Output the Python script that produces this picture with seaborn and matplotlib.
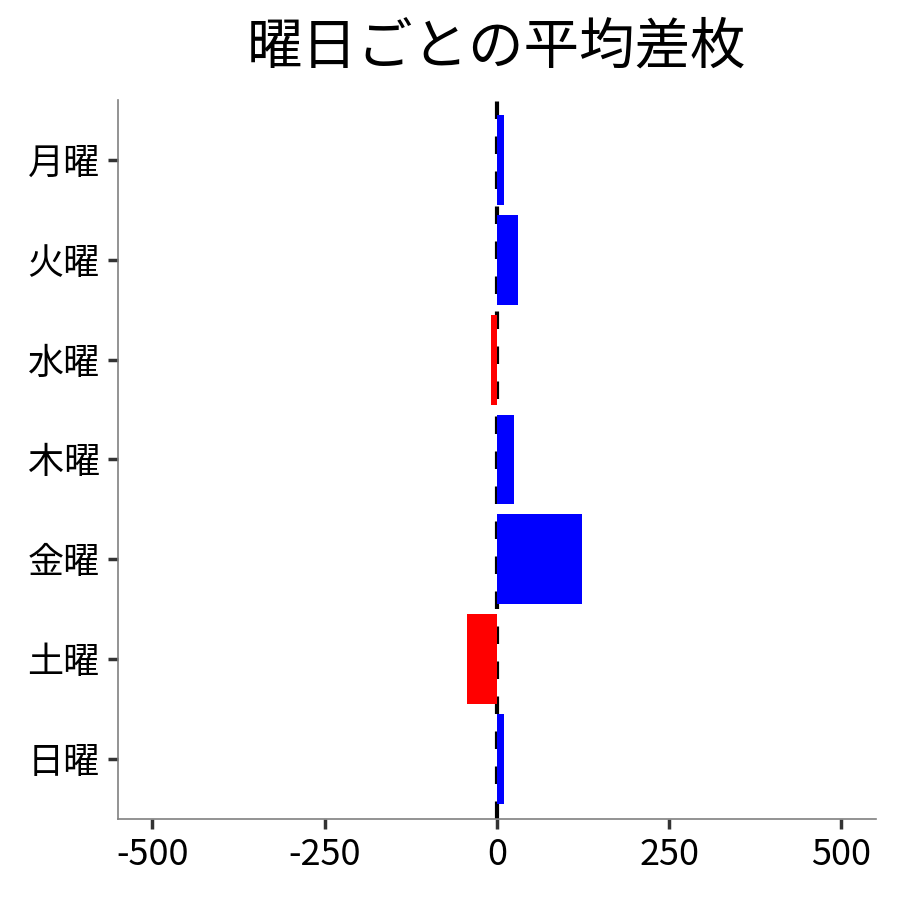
import pandas as pd
import seaborn as sns
import matplotlib.pyplot as plt

days = ['月曜', '火曜', '水曜', '木曜', '金曜', '土曜', '日曜']
avg_diff = [10, 31, -8, 25, 124, -43, 11]
x_ticks = [-500, -250, 0, 250, 500]

df = pd.DataFrame({'day': days, 'diff': avg_diff})
df['sign'] = ['plus' if v >= 0 else 'minus' for v in df['diff']]

sns.set_style('ticks')
plt.rcParams['font.family'] = ['Noto Sans CJK JP', 'DejaVu Sans']
plt.rcParams['axes.unicode_minus'] = False
plt.rcParams['text.color'] = 'black'
plt.rcParams['xtick.labelcolor'] = 'black'
plt.rcParams['ytick.labelcolor'] = 'black'

fig = plt.figure(figsize=(9, 9), dpi=100)
ax = fig.add_axes([0.131, 0.09, 0.842, 0.799])

# zero line sits behind the bars
ax.axvline(0, color='black', linewidth=3, linestyle=(0, (4.2, 4.2)), zorder=0.5)

sns.barplot(data=df, x='diff', y='day', hue='sign', order=days,
            palette={'plus': '#0000ff', 'minus': '#ff0000'},
            dodge=False, legend=False, width=0.9, saturation=1,
            linewidth=0, ax=ax)

ax.set_xlim(-550, 550)
ax.set_ylim(6.6, -0.6)
ax.set_xticks(x_ticks)
ax.set_xticklabels([str(t) for t in x_ticks])
ax.set_xlabel('')
ax.set_ylabel('')
ax.set_title('曜日ごとの平均差枚', fontsize=40, pad=26, color='black')

sns.despine(ax=ax)
for side in ['left', 'bottom']:
    ax.spines[side].set_color('#808080')
    ax.spines[side].set_linewidth(1.2)
ax.tick_params(axis='both', labelsize=26, length=7, width=2.5, color='#333333', pad=6)

fig.savefig('out.png', dpi=100)
